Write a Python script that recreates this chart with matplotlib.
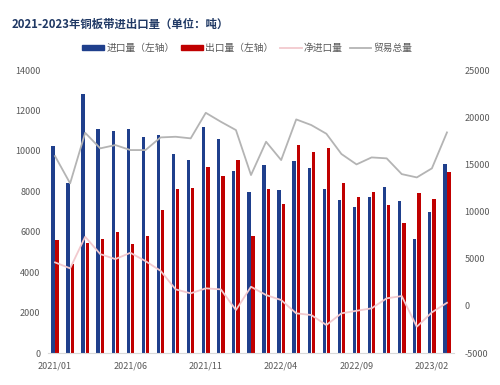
import matplotlib
matplotlib.use("Agg")
import matplotlib.pyplot as plt
import numpy as np
from matplotlib.lines import Line2D
from matplotlib.patches import Patch

plt.rcParams['font.family'] = ['Noto Sans CJK SC', 'DejaVu Sans']

months = ["2021/01","2021/02","2021/03","2021/04","2021/05","2021/06","2021/07","2021/08","2021/09",
          "2021/10","2021/11","2021/12","2022/01","2022/02","2022/03","2022/04","2022/05","2022/06",
          "2022/07","2022/08","2022/09","2022/10","2022/11","2022/12","2023/01","2023/02","2023/03"]
imports = [10240, 8390, 12810, 11070, 10980, 11100, 10700, 10780, 9840,
           9550, 11170, 10590, 9000, 7960, 9300, 8050, 9500, 9170,
           8130, 7570, 7240, 7740, 8230, 7540, 5620, 6960, 9330]
exports = [5590, 4400, 5460, 5660, 5970, 5390, 5790, 7070, 8100,
           8180, 9220, 8770, 9550, 5790, 8100, 7350, 10290, 9960,
           10130, 8390, 7740, 7960, 7340, 6420, 7900, 7620, 8940]
net_imports = [4610, 3980, 7330, 5490, 4960, 5630, 4750, 3720, 1750,
               1330, 1860, 1750, -440, 2030, 1150, 620, -790, -970,
               -2030, -790, -520, -260, 800, 1040, -2210, -690, 330]
trade_total = [15880, 12990, 18350, 16700, 17050, 16520, 16520, 17860, 17930,
               17760, 20470, 19520, 18640, 13870, 17400, 15460, 19770, 19170,
               18250, 16100, 15000, 15740, 15640, 13970, 13620, 14580, 18390]
left_ticks = [0, 2000, 4000, 6000, 8000, 10000, 12000, 14000]
right_ticks = [-5000, 0, 5000, 10000, 15000, 20000, 25000]
label_every = 5

c_blue = '#1F3F8C'
c_red = '#C00000'
c_pink = '#F2C9CE'
c_gray = '#B4B4B4'
tick_col = '#595959'

fig = plt.figure(figsize=(5, 3.85), dpi=100)
ax = fig.add_axes([0.095, 0.083, 0.814, 0.735])
x = np.arange(len(months))
w = 0.22
ax.bar(x - 0.14, imports, width=w, color=c_blue, zorder=2)
ax.bar(x + 0.14, exports, width=w, color=c_red, zorder=2)
ax.set_xlim(-0.5, len(months) - 0.5)
ax.set_ylim(0, 14000)
ax.set_yticks(left_ticks)
ax.set_yticklabels([str(v) for v in left_ticks])
ax.set_xticks(x[::label_every])
ax.set_xticklabels(months[::label_every])
for s in ['top', 'right', 'left']:
    ax.spines[s].set_visible(False)
ax.spines['bottom'].set_color('#D9D9D9')
ax.tick_params(axis='both', length=0, labelsize=6.5, colors=tick_col, pad=5)
ax.tick_params(axis='x', pad=6)

ax2 = ax.twinx()
ax2.plot(x, net_imports, color=c_pink, lw=1.3, zorder=3)
ax2.plot(x, trade_total, color=c_gray, lw=1.3, zorder=3)
ax2.set_ylim(-5000, 25000)
ax2.set_yticks(right_ticks)
ax2.set_yticklabels([str(v) for v in right_ticks])
for s in ['top', 'right', 'left', 'bottom']:
    ax2.spines[s].set_visible(False)
ax2.tick_params(axis='y', length=0, labelsize=6.5, colors=tick_col, pad=7)

fig.text(0.024, 0.937, "2021-2023年铜板带进出口量（单位：吨）", fontsize=8.2, fontweight='bold',
         color='#1F3864', ha='left', va='center')

handles = [Patch(color=c_blue), Patch(color=c_red),
           Line2D([0], [0], color=c_pink, lw=1.3), Line2D([0], [0], color=c_gray, lw=1.3)]
labels = ["进口量（左轴）", "出口量（左轴）", "净进口量", "贸易总量"]
leg = fig.legend(handles, labels, loc='center', bbox_to_anchor=(0.495, 0.875), ncol=4, frameon=False,
                 fontsize=7, handlelength=2.2, handleheight=0.45, columnspacing=0.7, handletextpad=0.25)
for t in leg.get_texts():
    t.set_color(tick_col)

fig.savefig("out.png", dpi=100)
